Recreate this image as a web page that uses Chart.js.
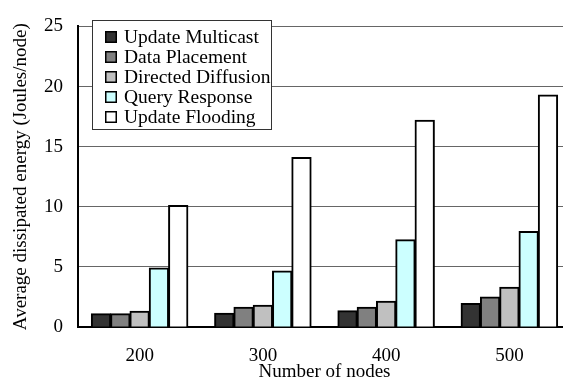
<!DOCTYPE html>
<html>
<head>
<meta charset="utf-8">
<script src="https://cdn.jsdelivr.net/npm/chart.js@4/dist/chart.umd.min.js"></script>
<style>
  html, body { margin: 0; padding: 0; background: #fff; overflow: hidden; width: 563px; height: 383px; }
  #wrap { width: 572px; height: 383px; }
</style>
</head>
<body>
<div id="wrap"><canvas id="c" width="572" height="383"></canvas></div>
<script>
const categories = ['200', '300', '400', '500'];
const updateMulticast   = [1.1, 1.15, 1.35, 1.95];
const dataPlacement     = [1.1, 1.65, 1.65, 2.5];
const directedDiffusion = [1.3, 1.8, 2.15, 3.3];
const queryResponse     = [4.9, 4.65, 7.25, 7.95];
const updateFlooding    = [10.1, 14.1, 17.2, 19.3];
const seriesNames = ['Update Multicast', 'Data Placement', 'Directed Diffusion', 'Query Response', 'Update Flooding'];
const yTicks = [0, 5, 10, 15, 20, 25];

const FONT = "'Liberation Serif', 'Times New Roman', serif";
const colors = ['#333333', '#808080', '#c0c0c0', '#ccffff', '#ffffff'];
const values = [updateMulticast, dataPlacement, directedDiffusion, queryResponse, updateFlooding];

const insideLegend = {
  id: 'insideLegend',
  afterDatasetsDraw(chart) {
    const ctx = chart.ctx;
    ctx.save();
    ctx.fillStyle = '#fff';
    ctx.fillRect(92, 20, 180, 110);
    ctx.strokeStyle = '#333';
    ctx.lineWidth = 1;
    ctx.strokeRect(92.5, 20.5, 179, 109);
    ctx.font = '19.5px ' + FONT;
    ctx.textBaseline = 'middle';
    ctx.textAlign = 'left';
    chart.data.datasets.forEach((ds, i) => {
      const cy = 37 + i * 20;
      ctx.fillStyle = ds.backgroundColor;
      ctx.fillRect(105, cy - 6, 12, 12);
      ctx.strokeStyle = '#000';
      ctx.lineWidth = 1.5;
      ctx.strokeRect(105.75, cy - 5.25, 10.5, 10.5);
      ctx.fillStyle = '#000';
      ctx.fillText(ds.label, 124, cy + 1);
    });
    ctx.restore();
  }
};

new Chart(document.getElementById('c'), {
  type: 'bar',
  data: {
    labels: categories,
    datasets: seriesNames.map((n, i) => ({
      label: n,
      data: values[i],
      backgroundColor: colors[i],
      borderColor: '#000',
      borderWidth: 2,
      barThickness: 19.3,
      inflateAmount: 0.5
    }))
  },
  options: {
    responsive: false,
    animation: false,
    devicePixelRatio: 1,
    layout: { padding: { top: 13, left: 0, right: 1, bottom: 0 } },
    plugins: { legend: { display: false }, tooltip: { enabled: false } },
    scales: {
      x: {
        grid: { display: false, drawTicks: false },
        border: { color: '#000', width: 2 },
        ticks: { color: '#000', font: { family: FONT, size: 19 }, padding: 18 },
        title: { display: true, text: 'Number of nodes', color: '#000', font: { family: FONT, size: 19 }, padding: { top: 0, bottom: 0 } },
        afterFit(s) { s.height = 56; }
      },
      y: {
        min: 0, max: 25,
        afterBuildTicks(s) { s.ticks = yTicks.map(v => ({ value: v })); },
        grid: { color: '#666', lineWidth: 1, drawTicks: false, tickLength: 0 },
        border: { color: '#000', width: 2 },
        ticks: { color: '#000', font: { family: FONT, size: 19 }, padding: 15 },
        title: { display: true, text: 'Average dissipated energy (Joules/node)', color: '#000', font: { family: FONT, size: 19 }, padding: { top: 10, bottom: 0 } },
        afterFit(s) { s.width = 78; }
      }
    }
  },
  plugins: [insideLegend]
});
</script>
</body>
</html>
